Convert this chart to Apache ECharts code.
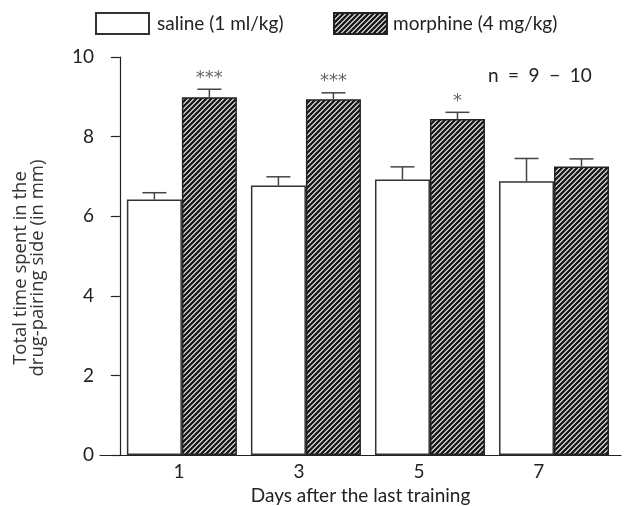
<!DOCTYPE html>
<html>
<head>
<meta charset="utf-8">
<script src="https://cdn.jsdelivr.net/npm/echarts@6/dist/echarts.min.js"></script>
<style>
html,body{margin:0;padding:0;background:#fff;}
#chart{width:642px;height:506px;}
</style>
</head>
<body>
<div id="chart"></div>
<script>
// ---- data ----
var days = [1, 3, 5, 7];
var dayLabels = ['1', '3', '5', '7'];
var salineMean = [6.42, 6.77, 6.92, 6.88];
var salineErr  = [0.17, 0.22, 0.32, 0.57];
var morphineMean = [8.99, 8.94, 8.44, 7.25];
var morphineErr  = [0.20, 0.16, 0.17, 0.19];
var morphineSig = ['***', '***', '*', ''];
var yTicks = [0, 2, 4, 6, 8, 10];
var seriesNames = ['saline (1 ml/kg)', 'morphine (4 mg/kg)'];

// ---- styling ----
var FONT = 'Lato';
var INK = '#222';
var BAR_W = 55;

function makeHatch() {
  var s = 5;
  var c = document.createElement('canvas');
  c.width = s; c.height = s;
  var g = c.getContext('2d');
  g.fillStyle = '#fff';
  g.fillRect(0, 0, s, s);
  g.strokeStyle = '#1a1a1a';
  g.lineWidth = 2.5;
  g.beginPath();
  g.moveTo(-1, 1); g.lineTo(1, -1);
  g.moveTo(0, s); g.lineTo(s, 0);
  g.moveTo(s - 1, s + 1); g.lineTo(s + 1, s - 1);
  g.stroke();
  return c;
}
var hatch = makeHatch();

function pairs(xs, ys) { return xs.map(function (x, i) { return [x, ys[i]]; }); }
function errData(xs, m, e, sig) {
  return xs.map(function (x, i) { return [x, m[i], m[i] + e[i], sig ? sig[i] : '']; });
}
function errRender(offset) {
  return function (params, api) {
    var x = api.value(0);
    var p0 = api.coord([x, api.value(1)]);
    var p1 = api.coord([x, api.value(2)]);
    var cx = p0[0] + offset;
    var half = 12;
    var children = [
      { type: 'line', shape: { x1: cx, y1: p0[1], x2: cx, y2: p1[1] }, style: { stroke: '#444', lineWidth: 1.5 } },
      { type: 'line', shape: { x1: cx - half, y1: p1[1], x2: cx + half, y2: p1[1] }, style: { stroke: '#444', lineWidth: 1.5 } }
    ];
    var txt = api.value(3);
    if (txt) {
      children.push({ type: 'text', style: { text: txt, x: cx, y: p1[1] - 11, align: 'center', verticalAlign: 'middle', fill: '#666', fontSize: 18, fontFamily: 'DejaVu Sans' } });
    }
    return { type: 'group', children: children };
  };
}

var chart = echarts.init(document.getElementById('chart'), null, { renderer: 'canvas' });
chart.setOption({
  animation: false,
  textStyle: { fontFamily: FONT, color: INK },
  legend: [
    { data: [seriesNames[0]], icon: 'rect', left: 95, top: 12, padding: 0, itemWidth: 53, itemHeight: 21, itemGap: 0,
      textStyle: { fontSize: 19, color: INK, fontFamily: FONT, padding: [0, 0, 0, 3] } },
    { data: [seriesNames[1]], icon: 'rect', left: 333, top: 12, padding: 0, itemWidth: 53, itemHeight: 21, itemGap: 0,
      textStyle: { fontSize: 19, color: INK, fontFamily: FONT, padding: [0, 0, 0, 1] } }
  ],
  grid: { left: 100, right: 21, top: 57, bottom: 51, containLabel: false, outerBoundsMode: 'none' },
  xAxis: [
    { type: 'value', min: -0.32, max: 8.08,
      axisLine: { show: true, lineStyle: { color: INK, width: 1.2 } },
      axisTick: { show: false }, axisLabel: { show: false }, splitLine: { show: false } },
    { type: 'value', position: 'bottom', min: -0.317, max: 8.37,
      axisLine: { show: false }, axisTick: { show: false }, splitLine: { show: false },
      axisLabel: { show: true, customValues: days, formatter: function (v) { return dayLabels[days.indexOf(v)]; },
        fontSize: 19, color: INK, fontFamily: FONT, margin: 7 },
      name: 'Days after the last training', nameLocation: 'middle', nameGap: 30,
      nameTextStyle: { fontSize: 19, color: INK, fontFamily: FONT } }
  ],
  yAxis: {
    type: 'value', min: 0, max: 10, interval: 2,
    axisLine: { show: true, lineStyle: { color: INK, width: 1.2 } },
    axisTick: { show: true, inside: false, length: 9, lineStyle: { color: INK, width: 1.2 } },
    axisLabel: { fontSize: 19, color: INK, fontFamily: FONT, margin: 6, customValues: yTicks },
    splitLine: { show: false }
  },
  graphic: [
    { type: 'text', x: 29, y: 268, rotation: Math.PI / 2,
      style: { text: 'Total time spent in the\ndrug-pairing side (in mm)', align: 'center', verticalAlign: 'middle',
        fontSize: 18.5, fontFamily: 'Open Sans', fill: '#333', lineHeight: 17 } },
    { type: 'text', left: 488, top: 66,
      style: { text: 'n\u2002=\u20029\u2002\u2212\u200210', fontSize: 19, fontFamily: FONT, fill: INK } }
  ],
  series: [
    { name: seriesNames[0], type: 'bar', xAxisIndex: 0, data: pairs(days, salineMean), barWidth: BAR_W, barGap: '0%',
      itemStyle: { color: '#fff', borderColor: '#333', borderWidth: 1.5 } },
    { name: seriesNames[1], type: 'bar', xAxisIndex: 0, data: pairs(days, morphineMean), barWidth: BAR_W, barGap: '0%',
      itemStyle: { color: { image: hatch, repeat: 'repeat' }, borderColor: '#222', borderWidth: 1.5 } },
    { type: 'custom', xAxisIndex: 0, data: errData(days, salineMean, salineErr), renderItem: errRender(-BAR_W / 2), z: 3 },
    { type: 'custom', xAxisIndex: 0, data: errData(days, morphineMean, morphineErr, morphineSig), renderItem: errRender(BAR_W / 2), z: 3 }
  ]
});
</script>
</body>
</html>
